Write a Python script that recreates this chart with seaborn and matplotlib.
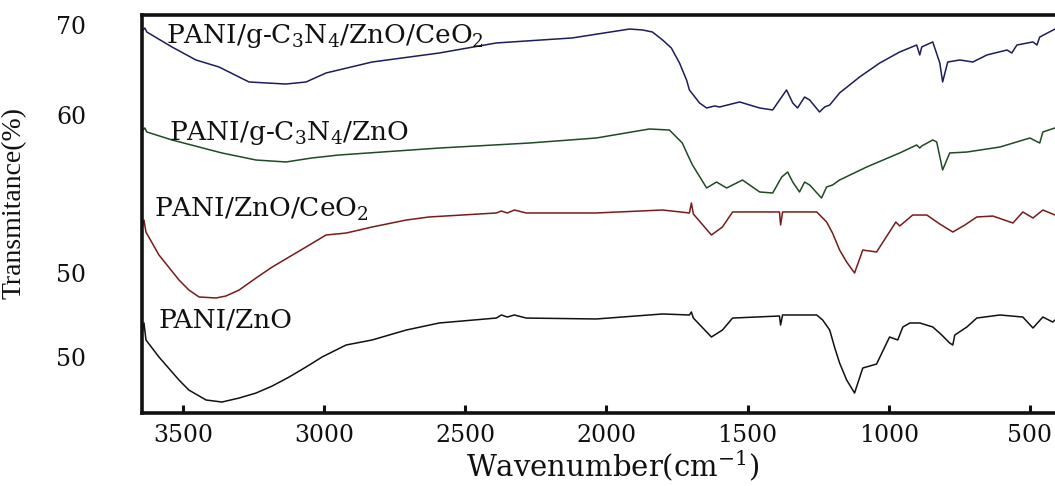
import matplotlib
matplotlib.use("Agg")
import matplotlib.pyplot as plt
import seaborn as sns

# FTIR spectra (wavenumber in cm^-1, offset transmittance)
wn_cn_zno_ceo2 = [3645, 3635, 3628, 3539, 3454, 3372, 3266, 3135, 3064, 2993, 2830, 2592,
                  2390, 2121, 1918, 1872, 1837, 1801, 1770, 1741, 1716, 1706, 1670, 1645,
                  1617, 1599, 1528, 1457, 1411, 1362, 1340, 1323, 1298, 1280, 1245, 1227,
                  1209, 1174, 1103, 1032, 961, 901, 890, 883, 844, 819, 809, 791, 748, 702,
                  652, 581, 564, 546, 489, 475, 465, 411]
t_cn_zno_ceo2 = [69.53, 69.88, 69.41, 67.65, 66.12, 65.29, 63.53, 63.29, 63.53, 64.59, 65.88,
                 66.94, 68.12, 68.71, 69.76, 69.65, 69.41, 68.47, 67.53, 65.76, 63.76, 62.59,
                 61.06, 60.47, 60.71, 60.59, 61.18, 60.47, 60.24, 62.59, 61.06, 60.47, 61.76,
                 61.41, 60.00, 60.59, 60.82, 62.24, 64.12, 65.76, 67.06, 67.88, 66.71, 67.65,
                 68.24, 65.76, 63.53, 65.88, 66.12, 65.88, 66.71, 67.29, 66.94, 67.88, 68.24,
                 67.88, 68.82, 69.76]

wn_cn_zno = [3645, 3635, 3628, 3539, 3362, 3241, 3135, 3043, 2947, 2592, 2273, 2036, 1848,
             1777, 1731, 1712, 1695, 1645, 1610, 1574, 1518, 1457, 1411, 1379, 1358, 1340,
             1316, 1298, 1280, 1238, 1220, 1199, 1174, 1078, 961, 901, 890, 883, 844, 830,
             809, 784, 723, 606, 500, 465, 454, 411]
t_cn_zno = [57.76, 58.12, 57.65, 56.71, 55.18, 54.35, 54.12, 54.59, 54.94, 55.76, 56.35,
            56.94, 58.00, 57.88, 56.35, 54.94, 53.76, 51.06, 51.76, 51.06, 52.00, 50.59,
            50.47, 52.35, 52.94, 51.76, 50.59, 51.76, 51.41, 49.88, 51.18, 51.41, 52.00,
            53.53, 55.18, 56.12, 55.76, 56.00, 56.71, 56.47, 53.18, 55.18, 55.29, 55.88,
            56.94, 56.35, 57.65, 58.12]

wn_zno_ceo2 = [3645, 3638, 3631, 3585, 3514, 3479, 3443, 3383, 3348, 3301, 3241, 3184, 3124,
               3064, 2993, 2922, 2830, 2709, 2628, 2390, 2372, 2351, 2326, 2284, 2036, 1801,
               1706, 1699, 1692, 1628, 1589, 1553, 1387, 1383, 1376, 1255, 1220, 1199, 1174,
               1149, 1121, 1092, 1043, 986, 975, 961, 915, 865, 819, 773, 730, 688, 631, 560,
               525, 489, 454, 411]
t_zno_ceo2 = [46.35, 47.29, 45.88, 43.18, 40.24, 39.06, 38.24, 38.12, 38.35, 39.06, 40.47,
              41.76, 42.94, 44.12, 45.53, 45.76, 46.47, 47.29, 47.65, 48.12, 48.35, 48.12,
              48.47, 48.12, 48.12, 48.47, 48.12, 49.29, 48.00, 45.53, 46.47, 48.24, 48.24,
              46.71, 48.24, 48.24, 47.06, 45.76, 43.76, 42.35, 41.06, 43.76, 43.53, 46.47,
              47.06, 46.59, 47.88, 47.88, 46.82, 45.88, 46.71, 47.65, 47.76, 46.94, 48.24,
              47.53, 48.47, 47.88]

wn_zno = [3645, 3638, 3631, 3585, 3514, 3479, 3418, 3362, 3301, 3241, 3184, 3124, 3064, 3007,
          2922, 2830, 2709, 2592, 2390, 2372, 2351, 2326, 2284, 2036, 1801, 1706, 1699, 1692,
          1628, 1589, 1553, 1387, 1383, 1376, 1255, 1234, 1209, 1192, 1174, 1149, 1121, 1092,
          1043, 997, 968, 950, 925, 890, 844, 812, 784, 773, 766, 723, 688, 606, 525, 489,
          454, 419, 411]
t_zno = [34.00, 35.18, 33.18, 31.18, 28.47, 27.29, 26.12, 25.88, 26.35, 26.94, 27.76, 28.82,
         30.00, 31.18, 32.59, 33.18, 34.35, 35.18, 35.76, 36.12, 35.88, 36.12, 35.76, 35.65,
         36.24, 36.12, 36.47, 35.76, 33.53, 34.35, 35.76, 36.00, 34.94, 36.12, 36.12, 35.53,
         34.35, 32.35, 30.47, 28.47, 26.94, 29.88, 30.35, 33.53, 33.18, 34.71, 35.18, 35.18,
         34.71, 33.76, 32.82, 32.59, 33.76, 34.71, 35.76, 36.12, 35.88, 34.59, 35.88, 35.29,
         35.53]

series_names = [r"PANI/g-C$_3$N$_4$/ZnO/CeO$_2$", r"PANI/g-C$_3$N$_4$/ZnO",
                r"PANI/ZnO/CeO$_2$", "PANI/ZnO"]
series_colors = ["#1c1c5e", "#1f4a24", "#7a1a1a", "#111111"]
label_x = [3560, 3550, 3603, 3585]
label_y = [68.12, 56.71, 47.65, 34.59]

x_ticks = [3500, 3000, 2500, 2000, 1500, 1000, 500]
y_tick_pos = [70.29, 59.65, 41.06, 31.18]
y_tick_labels = ["70", "60", "50", "50"]

sns.set_theme(style="ticks")
plt.rcParams["font.family"] = ["DejaVu Serif"]
plt.rcParams["mathtext.fontset"] = "dejavuserif"

fig = plt.figure(figsize=(10.55, 4.86), dpi=100)
ax = fig.add_axes([142 / 1055, 73 / 486, 913 / 1055, 398 / 486])

spectra = [(wn_cn_zno_ceo2, t_cn_zno_ceo2), (wn_cn_zno, t_cn_zno),
           (wn_zno_ceo2, t_zno_ceo2), (wn_zno, t_zno)]
for (wn, t), color in zip(spectra, series_colors):
    sns.lineplot(x=wn, y=t, ax=ax, color=color, linewidth=1.1, sort=False, estimator=None)

for name, lx, ly in zip(series_names, label_x, label_y):
    ax.text(lx, ly, name, fontsize=19, family="DejaVu Serif", color="#111111",
            ha="left", va="baseline")

ax.set_xlim(3645, 411)
ax.set_ylim(24.59, 71.41)
ax.set_xticks(x_ticks)
ax.set_xticklabels([str(v) for v in x_ticks])
ax.set_yticks(y_tick_pos)
ax.set_yticklabels(y_tick_labels)

ax.tick_params(axis="x", direction="in", length=6, width=2.2, pad=8, labelsize=17,
               colors="#111111")
ax.tick_params(axis="y", length=0, pad=40, labelsize=17, colors="#111111")

for side in ["left", "bottom", "top"]:
    ax.spines[side].set_linewidth(2.6)
    ax.spines[side].set_color("#111111")
ax.spines["right"].set_visible(False)

ax.set_xlabel(r"Wavenumber(cm$^{-1}$)", fontsize=21, color="#111111", va="center")
ax.xaxis.set_label_coords(0.516, -0.131)
ax.set_ylabel("Transmitance(%)", fontsize=20, family="Liberation Serif", color="#111111")
ax.yaxis.set_label_coords(-0.126, 0.528)

fig.savefig("out.png", dpi=100)
